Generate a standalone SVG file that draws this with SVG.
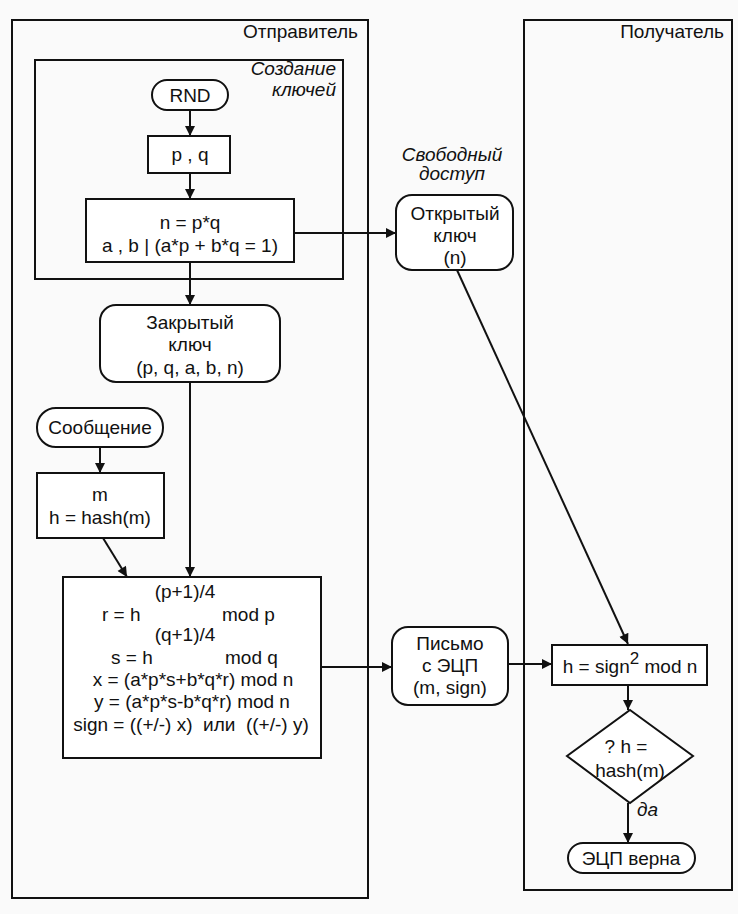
<svg xmlns="http://www.w3.org/2000/svg" width="738" height="914" viewBox="0 0 738 914">
<style>
.f{fill:none;stroke:#111;stroke-width:2}
.n{fill:#fff;stroke:#111;stroke-width:2}
text{font-family:"Liberation Sans",Arial,sans-serif;font-size:19px;fill:#111;white-space:pre}
.c{text-anchor:middle}
.r{text-anchor:end}
.i{font-style:italic}
.e{stroke:#111;stroke-width:2;fill:none;marker-end:url(#a)}
</style>
<defs>
<marker id="a" viewBox="0 0 10 10" refX="10" refY="5" markerWidth="6" markerHeight="5" orient="auto" markerUnits="strokeWidth">
<path d="M0,0 L10,5 L0,10 z" fill="#111"/>
</marker>
</defs>
<rect width="738" height="914" fill="#fafafa"/>
<g id="sender">
<rect class="f" x="12" y="20" width="356" height="878"/>
<text class="r" x="358" y="38">Отправитель</text>
</g>
<g id="receiver">
<rect class="f" x="524" y="20" width="208" height="870"/>
<text class="r" x="724" y="38">Получатель</text>
</g>
<g id="keygen">
<rect class="f" x="35" y="60" width="308" height="219"/>
<text class="r i" x="336" y="75">Создание</text>
<text class="r i" x="336" y="96">ключей</text>
</g>
<g id="freeaccess">
<text class="c i" x="452" y="161">Свободный</text>
<text class="c i" x="452" y="180">доступ</text>
</g>
<g id="connectors">
<line class="e" x1="190" y1="110" x2="190" y2="136"/>
<line class="e" x1="190" y1="173" x2="190" y2="199"/>
<line class="e" x1="294" y1="233" x2="396" y2="233"/>
<line class="e" x1="190" y1="262" x2="190" y2="305"/>
<line class="e" x1="190" y1="382" x2="190" y2="577"/>
<line class="e" x1="100" y1="447" x2="100" y2="473"/>
<line class="e" x1="103" y1="538" x2="127" y2="577"/>
<line class="e" x1="321" y1="667" x2="392" y2="667"/>
<line class="e" x1="508" y1="664" x2="552" y2="664"/>
<line class="e" x1="457" y1="270" x2="628" y2="644"/>
<line class="e" x1="628" y1="685" x2="628" y2="710"/>
<line class="e" x1="628" y1="803" x2="628" y2="843"/>
<text x="637" y="816" class="i" font-size="18">да</text>
</g>
<g id="rnd">
<rect class="n" x="152" y="80" width="76" height="30" rx="15"/>
<text class="c" x="190" y="102">RND</text>
</g>
<g id="pq">
<rect class="n" x="148" y="136" width="82" height="37"/>
<text class="c" x="190" y="161">p , q</text>
</g>
<g id="nbox">
<rect class="n" x="86" y="199" width="208" height="63"/>
<text class="c" x="190" y="229">n = p*q</text>
<text class="c" x="190" y="252">a , b | (a*p + b*q = 1)</text>
</g>
<g id="pubkey">
<rect class="n" x="396" y="195" width="117" height="75" rx="16"/>
<text class="c" x="455" y="220">Открытый</text>
<text class="c" x="455" y="242">ключ</text>
<text class="c" x="455" y="264">(n)</text>
</g>
<g id="privkey">
<rect class="n" x="100" y="305" width="180" height="77" rx="16"/>
<text class="c" x="190" y="329">Закрытый</text>
<text class="c" x="190" y="351">ключ</text>
<text class="c" x="190" y="374">(p, q, a, b, n)</text>
</g>
<g id="message">
<rect class="n" x="37" y="408" width="126" height="39" rx="19"/>
<text class="c" x="100" y="434">Сообщение</text>
</g>
<g id="hashbox">
<rect class="n" x="37" y="473" width="127" height="65"/>
<text class="c" x="100" y="501">m</text>
<text class="c" x="100" y="524">h = hash(m)</text>
</g>
<g id="signbox">
<rect class="n" x="63" y="577" width="258" height="181"/>
<text class="c" x="185" y="598">(p+1)/4</text>
<text x="102" y="621">r = h</text>
<text x="222" y="621">mod p</text>
<text class="c" x="185" y="641">(q+1)/4</text>
<text x="111" y="664">s = h</text>
<text x="225" y="664">mod q</text>
<text class="c" x="193" y="686">x = (a*p*s+b*q*r) mod n</text>
<text class="c" x="192" y="708">y = (a*p*s-b*q*r) mod n</text>
<text class="c" x="191" y="731">sign = ((+/-) x)  или  ((+/-) y)</text>
</g>
<g id="letter">
<rect class="n" x="392" y="627" width="116" height="78" rx="16"/>
<text class="c" x="450" y="650">Письмо</text>
<text class="c" x="450" y="672">с ЭЦП</text>
<text class="c" x="450" y="694">(m, sign)</text>
</g>
<g id="verify">
<rect class="n" x="552" y="645" width="155" height="40"/>
<text class="c" x="630" y="673">h = sign<tspan dy="-9" font-size="17">2</tspan><tspan dy="9"> mod n</tspan></text>
</g>
<g id="decision">
<polygon class="n" points="630,710 693,756 630,803 567,756"/>
<text class="c" x="626" y="753">? h =</text>
<text class="c" x="630" y="777">hash(m)</text>
</g>
<g id="valid">
<rect class="n" x="568" y="843" width="127" height="30" rx="15"/>
<text class="c" x="631" y="865">ЭЦП верна</text>
</g>
</svg>
